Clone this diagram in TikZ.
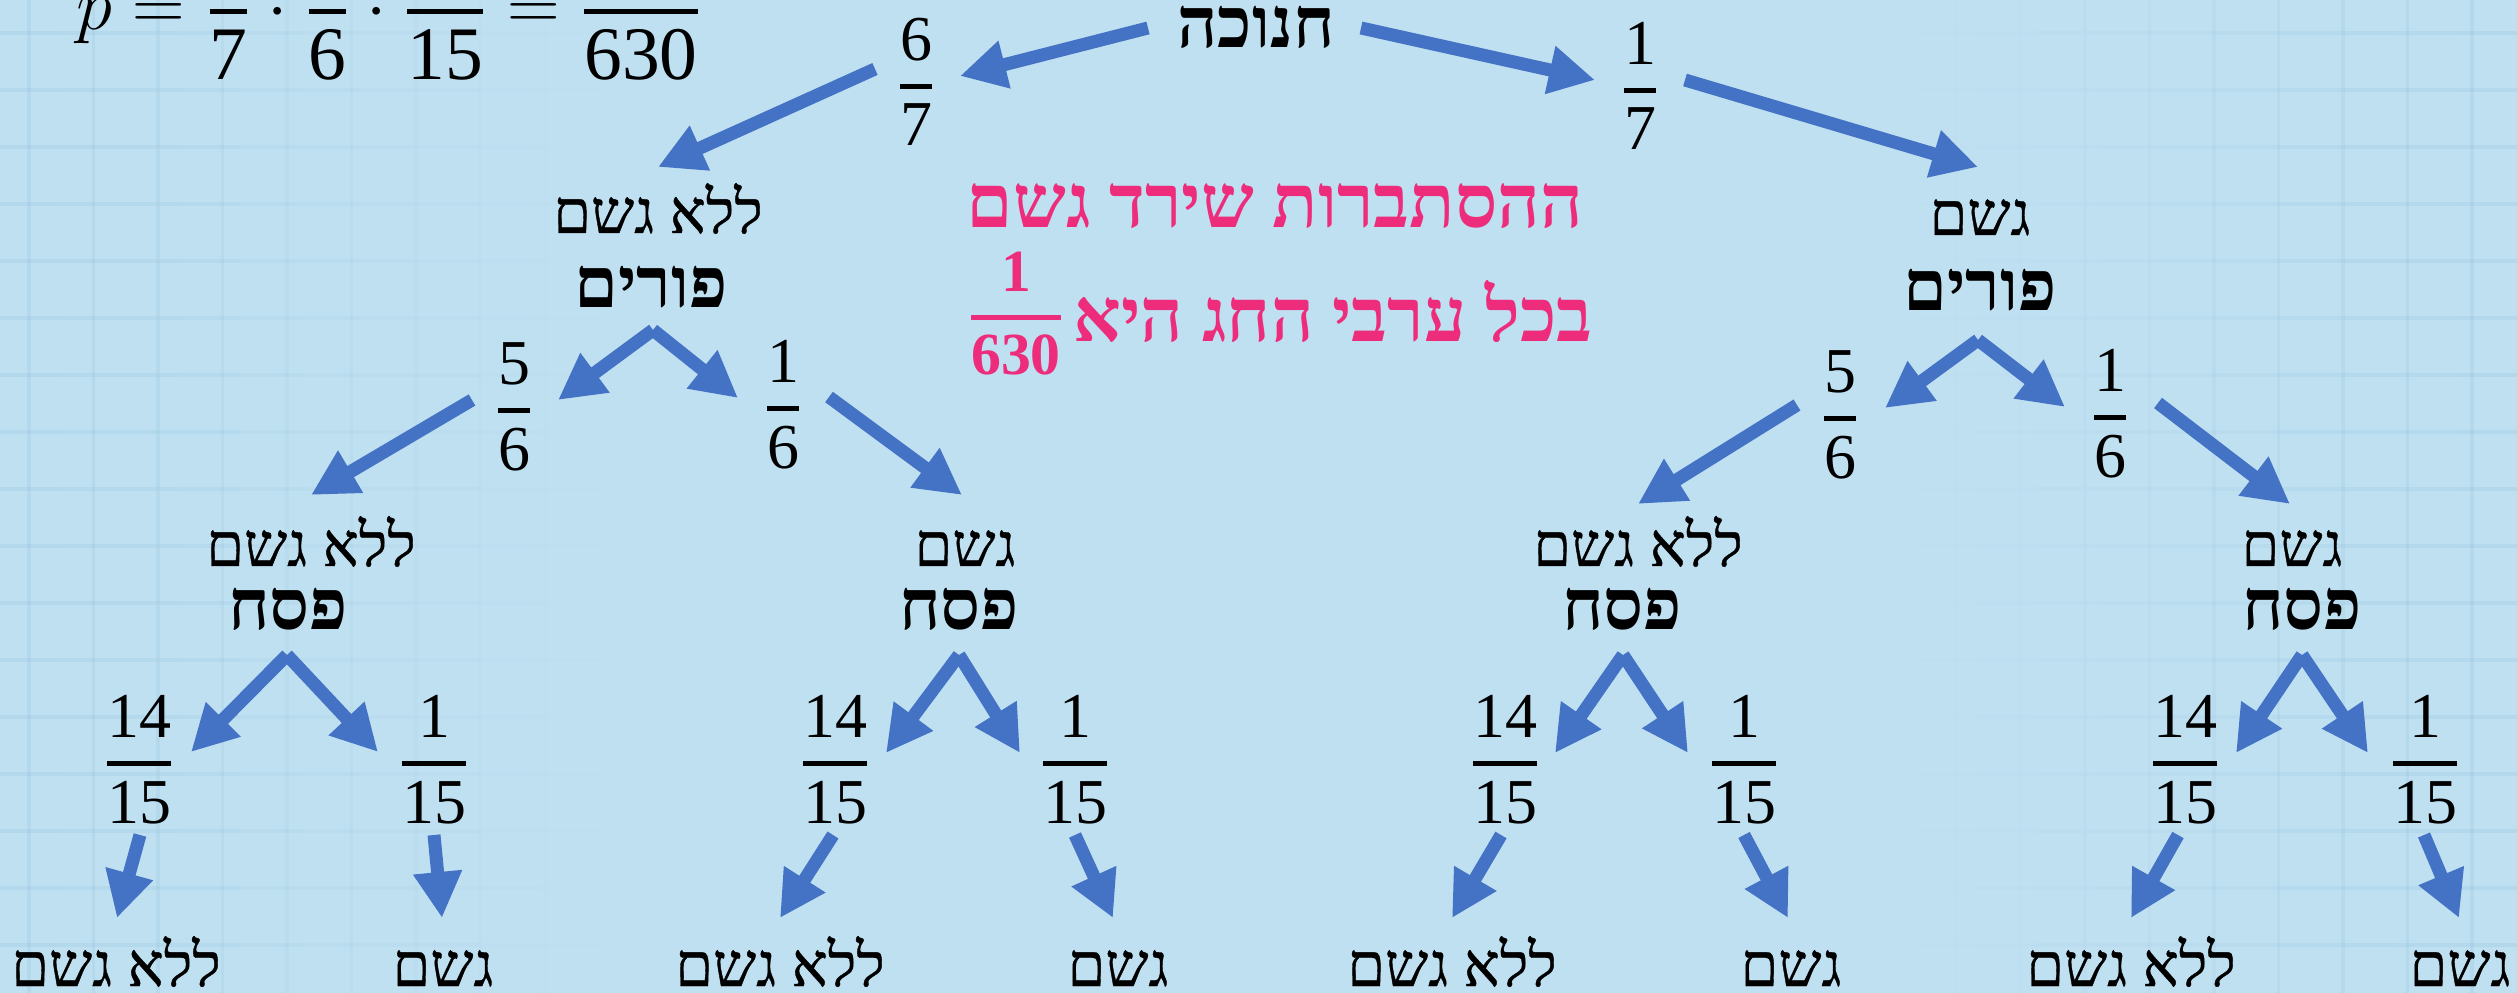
\documentclass[tikz,border=0pt]{standalone}
\usepackage{amsmath}
\usepackage{fontspec}
\setmainfont{Liberation Serif}
\newfontfamily\heb[Script=Hebrew]{Liberation Serif}
\newfontfamily\hebr[Script=Hebrew,FakeBold=0.6]{Liberation Serif}
\TeXXeTstate=1
\usetikzlibrary{arrows.meta}
\definecolor{bg}{RGB}{191,224,241}
\definecolor{arrowblue}{RGB}{68,114,196}
\definecolor{pinktext}{RGB}{238,44,124}
\definecolor{gridc}{RGB}{150,195,222}
\newcommand{\hb}[1]{\beginR #1\endR}
\newcommand{\fr}[2]{\ensuremath{\genfrac{}{}{1.4pt}{0}{\text{#1}}{\text{#2}}}}
\begin{document}
\begin{tikzpicture}[x=0.1mm,y=-0.1mm,
  lbl/.style={inner sep=0pt, anchor=base, font=\hebr\fontsize{17.3}{20}\selectfont},
  hol/.style={inner sep=0pt, anchor=base, font=\heb\bfseries\fontsize{20}{24}\selectfont},
  pinkt/.style={inner sep=0pt, anchor=base, text=pinktext, font=\heb\bfseries\fontsize{21.2}{25}\selectfont},
  fracn/.style={inner sep=0pt, anchor=base, font=\fontsize{18.2}{22}\selectfont},
  arr/.style={draw=arrowblue, line width=1.3mm, -{Triangle[length=4.6mm,width=4.6mm]}},
  gridl/.style={draw=gridc, line width=0.35mm}]
\useasboundingbox (0,0) rectangle (2517,993);
\fill[bg] (0,0) rectangle (2517,993);
% faded grid, left and right
\foreach \k in {0,...,8}{
  \pgfmathsetmacro\xx{29+64.5*\k}
  \pgfmathsetmacro\op{max(0,0.3*(1-\xx/600))}
  \draw[gridl, opacity=\op] (\xx,0) -- (\xx,993);
  \pgfmathsetmacro\xr{2472-64.5*\k}
  \pgfmathsetmacro\opr{max(0,0.3*(1-(2517-\xr)/600))}
  \draw[gridl, opacity=\opr] (\xr,0) -- (\xr,993);
}
\foreach \j in {0,...,16}{
  \pgfmathsetmacro\yy{33+57*\j}
  \foreach \s in {0,...,9}{
    \pgfmathsetmacro\xa{60*\s}
    \pgfmathsetmacro\xb{60*\s+60}
    \pgfmathsetmacro\op{max(0,0.3*(1-(\xa+30)/600))}
    \draw[gridl, opacity=\op] (\xa,\yy) -- (\xb,\yy);
    \pgfmathsetmacro\xc{2517-60*\s}
    \pgfmathsetmacro\xd{2517-60*\s-60}
    \pgfmathsetmacro\opr{max(0,0.3*(1-(60*\s+30)/600))}
    \draw[gridl, opacity=\opr] (\xc,\yy) -- (\xd,\yy);
  }
}
% formula
\node[anchor=base west, inner sep=0pt, font=\fontsize{21.5}{25}\selectfont] (formula) at (76,30)
  {$p=\fr{\phantom{1}}{7}\cdot\fr{\phantom{1}}{6}\cdot\fr{\phantom{1}}{15}=\fr{\phantom{1}}{630}$};
% level 0
\node[hol] (hanuk) at (1256,48) {\hb{חנוכה}};
\node[fracn] (f67) at (916,102) {\fr{6}{7}};
\node[fracn] (f17) at (1640,106) {\fr{1}{7}};
% level 1
\node[lbl] (n1L) at (658,233) {\hb{ללא גשם}};
\node[hol] (p1L) at (651,308) {\hb{פורים}};
\node[lbl] (n1R) at (1980,235) {\hb{גשם}};
\node[hol] (p1R) at (1980,311) {\hb{פורים}};
\node[fracn] (f56L) at (514,426) {\fr{5}{6}};
\node[fracn] (f16L) at (783,424) {\fr{1}{6}};
\node[fracn] (f56R) at (1840,434) {\fr{5}{6}};
\node[fracn] (f16R) at (2110,433) {\fr{1}{6}};
% pink text
\node[pinkt] (t1) at (1275,228) {\hb{ההסתברות שירד גשם}};
\node[pinkt] (t2) at (1333,342) {\hb{בכל ערבי החג היא}};
\node[inner sep=0pt, anchor=base, text=pinktext, font=\bfseries\fontsize{17}{20}\selectfont] (t3) at (1016,333) {\fr{1}{630}};
% level 2
\node[lbl] (a2) at (311,566) {\hb{ללא גשם}};
\node[hol] (q1) at (288,630) {\hb{פסח}};
\node[lbl] (b2) at (965,566) {\hb{גשם}};
\node[hol] (q2) at (959,630) {\hb{פסח}};
\node[lbl] (c2) at (1638,566) {\hb{ללא גשם}};
\node[hol] (q3) at (1622,630) {\hb{פסח}};
\node[lbl] (d2) at (2292,566) {\hb{גשם}};
\node[hol] (q4) at (2302,630) {\hb{פסח}};
\node[fracn] (g1) at (139,779) {\fr{14}{15}};
\node[fracn] (g2) at (434,779) {\fr{1}{15}};
\node[fracn] (g3) at (835,779) {\fr{14}{15}};
\node[fracn] (g4) at (1075,779) {\fr{1}{15}};
\node[fracn] (g5) at (1505,779) {\fr{14}{15}};
\node[fracn] (g6) at (1744,779) {\fr{1}{15}};
\node[fracn] (g7) at (2185,779) {\fr{14}{15}};
\node[fracn] (g8) at (2425,779) {\fr{1}{15}};
% level 3
\node[lbl] (h1) at (116,986) {\hb{ללא גשם}};
\node[lbl] (h2) at (443,986) {\hb{גשם}};
\node[lbl] (h3) at (780,986) {\hb{ללא גשם}};
\node[lbl] (h4) at (1118,986) {\hb{גשם}};
\node[lbl] (h5) at (1452,986) {\hb{ללא גשם}};
\node[lbl] (h6) at (1791,986) {\hb{גשם}};
\node[lbl] (h7) at (2131,986) {\hb{ללא גשם}};
\node[lbl] (h8) at (2460,986) {\hb{גשם}};
% arrows level 0
\draw[arr] ([shift={(-108,-20)}]hanuk.base) -- ([shift={(44,-26)}]f67.base);
\draw[arr] ([shift={(105,-20)}]hanuk.base) -- ([shift={(-45,-26)}]f17.base);
\draw[arr] ([shift={(-41,-33)}]f67.base) -- ([shift={(0,-66)}]n1L.base);
\draw[arr] ([shift={(45,-26)}]f17.base) -- ([shift={(-2,-68)}]n1R.base);
% arrows level 1
\draw[arr] ([shift={(2,22)}]p1L.base) -- ([shift={(44,-26)}]f56L.base);
\draw[arr] ([shift={(2,22)}]p1L.base) -- ([shift={(-45,-26)}]f16L.base);
\draw[arr] ([shift={(-42,-26)}]f56L.base) -- ([shift={(0,-71)}]a2.base);
\draw[arr] ([shift={(46,-27)}]f16L.base) -- ([shift={(-3,-71)}]b2.base);
\draw[arr] ([shift={(-2,29)}]p1R.base) -- ([shift={(45,-26)}]f56R.base);
\draw[arr] ([shift={(-2,29)}]p1R.base) -- ([shift={(-45,-26)}]f16R.base);
\draw[arr] ([shift={(-43,-29)}]f56R.base) -- ([shift={(0,-62)}]c2.base);
\draw[arr] ([shift={(48,-30)}]f16R.base) -- ([shift={(-2,-62)}]d2.base);
% arrows level 2
\draw[arr] ([shift={(-1,25)}]q1.base) -- ([shift={(52,-27)}]g1.base);
\draw[arr] ([shift={(-1,25)}]q1.base) -- ([shift={(-56,-27)}]g2.base);
\draw[arr] ([shift={(0,25)}]q2.base) -- ([shift={(51,-26)}]g3.base);
\draw[arr] ([shift={(0,25)}]q2.base) -- ([shift={(-55,-26)}]g4.base);
\draw[arr] ([shift={(1,25)}]q3.base) -- ([shift={(50,-26)}]g5.base);
\draw[arr] ([shift={(1,25)}]q3.base) -- ([shift={(-56,-26)}]g6.base);
\draw[arr] ([shift={(0,25)}]q4.base) -- ([shift={(51,-26)}]g7.base);
\draw[arr] ([shift={(0,25)}]q4.base) -- ([shift={(-57,-26)}]g8.base);
% arrows level 3
\draw[arr] ([shift={(1,56)}]g1.base) -- ([shift={(1,-68)}]h1.base);
\draw[arr] ([shift={(0,56)}]g2.base) -- ([shift={(-1,-68)}]h2.base);
\draw[arr] ([shift={(-2,56)}]g3.base) -- ([shift={(0,-68)}]h3.base);
\draw[arr] ([shift={(0,56)}]g4.base) -- ([shift={(-5,-68)}]h4.base);
\draw[arr] ([shift={(-4,56)}]g5.base) -- ([shift={(0,-68)}]h5.base);
\draw[arr] ([shift={(0,56)}]g6.base) -- ([shift={(-3,-68)}]h6.base);
\draw[arr] ([shift={(-7,56)}]g7.base) -- ([shift={(0,-68)}]h7.base);
\draw[arr] ([shift={(-1,56)}]g8.base) -- ([shift={(-1,-68)}]h8.base);
\end{tikzpicture}
\end{document}
